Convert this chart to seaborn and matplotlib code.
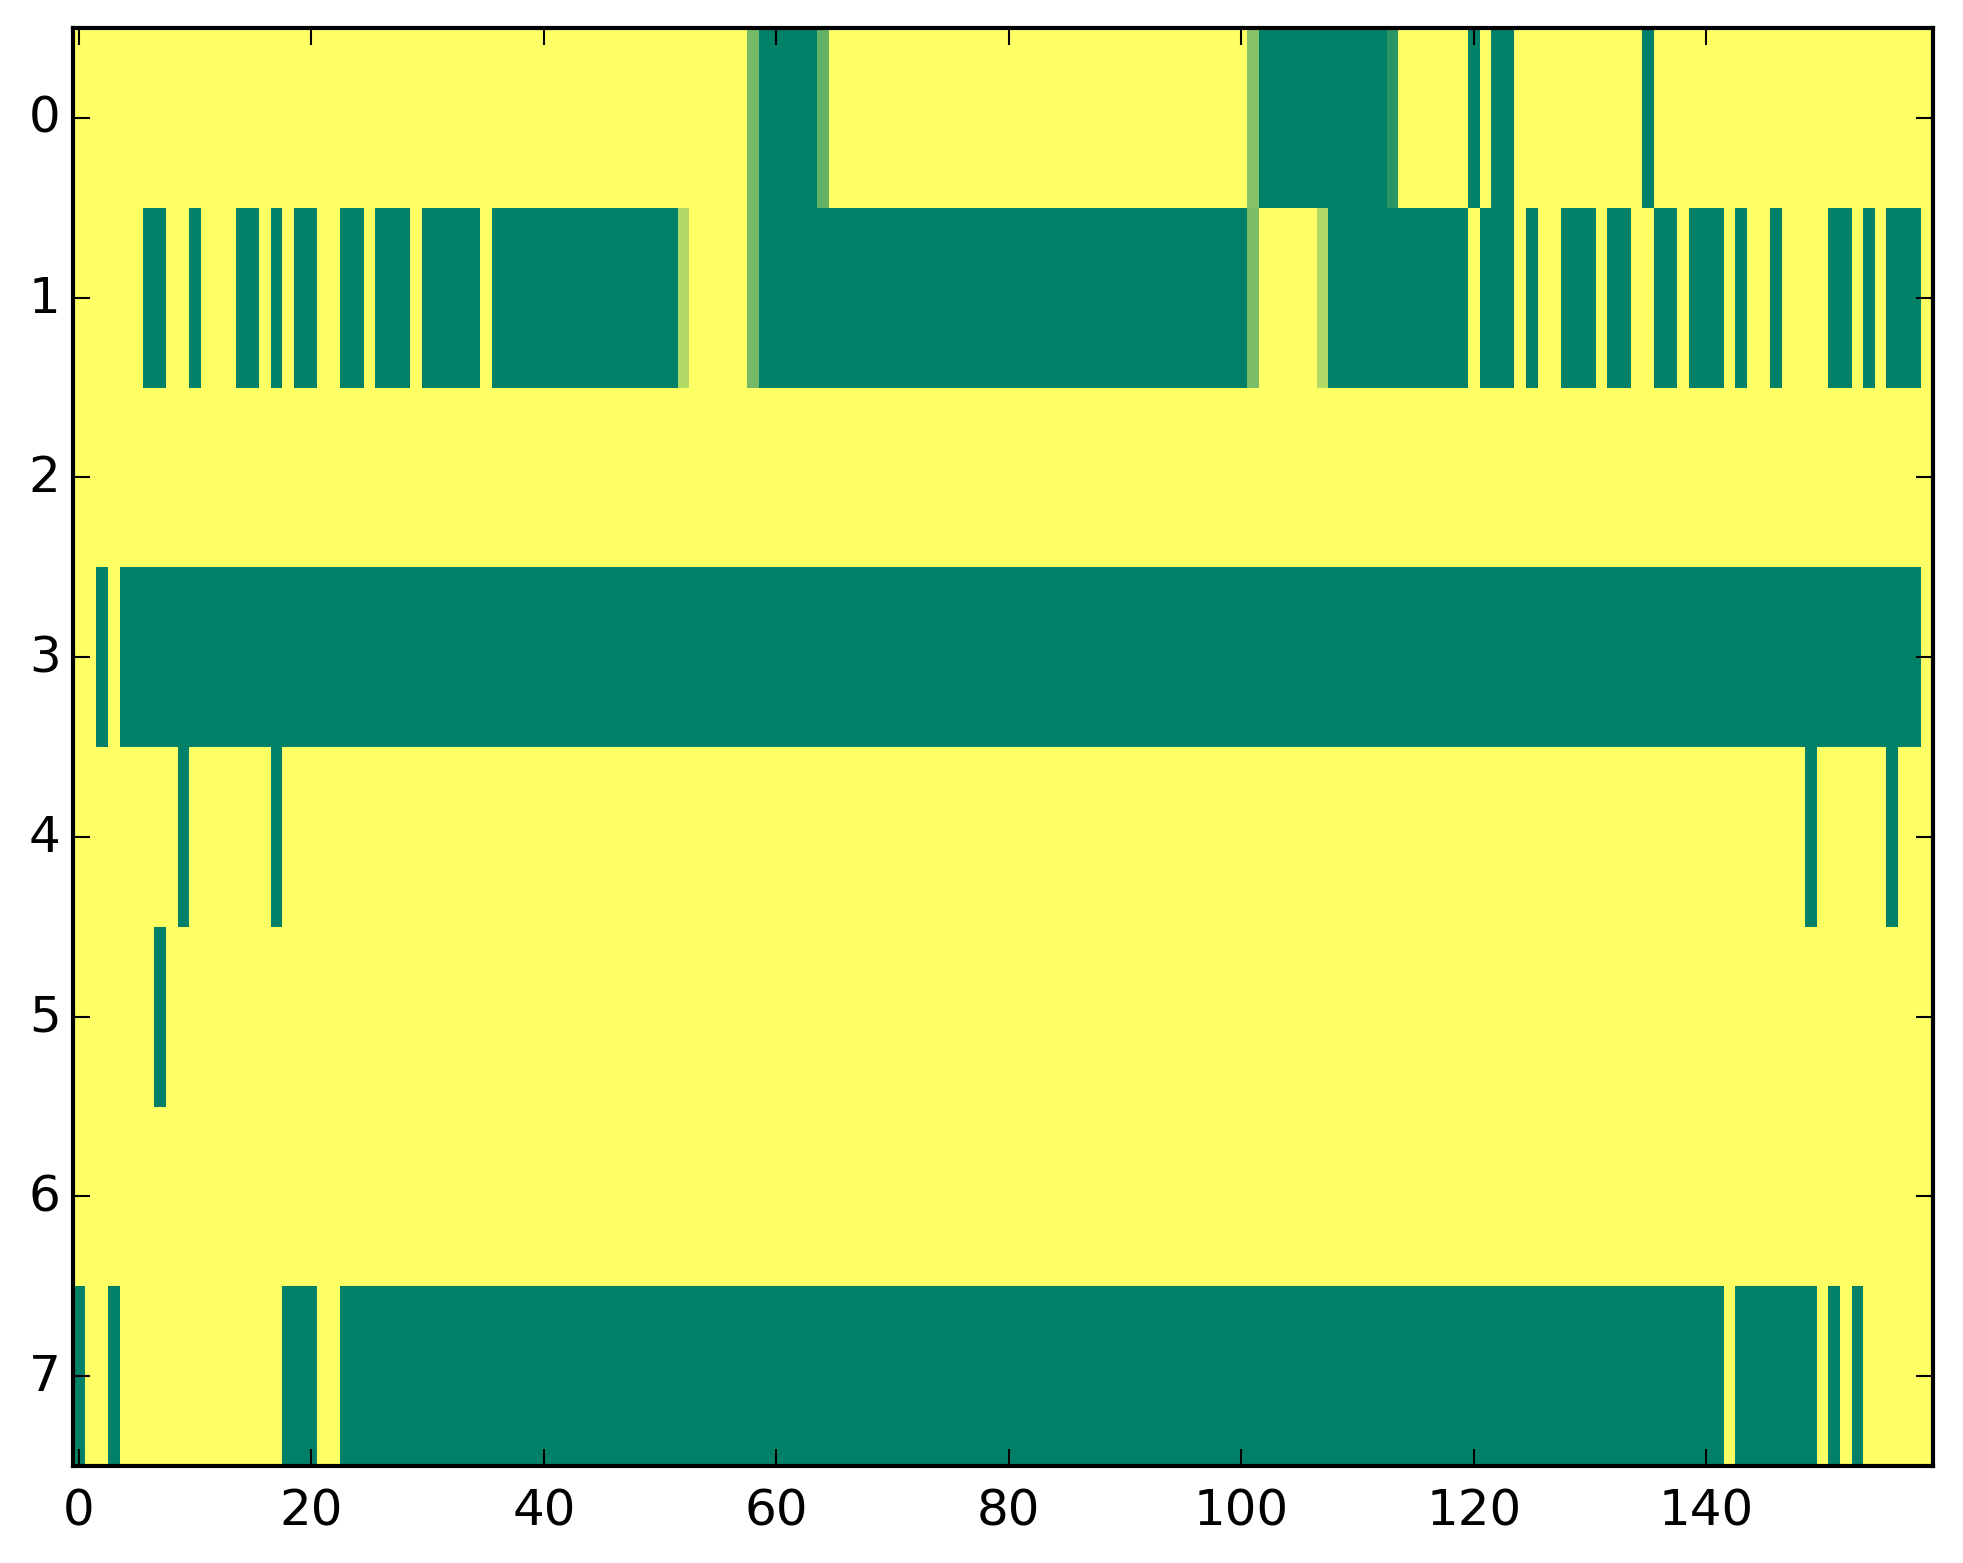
import numpy as np
import seaborn as sns
import matplotlib
matplotlib.use("Agg")
import matplotlib.pyplot as plt

# Data: 8 rows x 160 columns, value 1 = yellow, 0 = green (summer cmap)
n_rows = 8
n_cols = 160

# green runs (inclusive column ranges) for each row
row0_green = [(59, 63), (102, 112), (120, 120), (122, 123), (135, 135)]
row1_green = [(6, 7), (10, 10), (14, 15), (17, 17), (19, 20), (23, 24), (26, 28),
              (30, 34), (36, 51), (59, 100), (108, 119), (121, 123), (125, 125),
              (128, 130), (132, 133), (136, 137), (139, 141), (143, 143),
              (146, 146), (151, 152), (154, 154), (156, 158)]
row2_green = []
row3_green = [(2, 2), (4, 158)]
row4_green = [(9, 9), (17, 17), (149, 149), (156, 156)]
row5_green = [(7, 7)]
row6_green = []
row7_green = [(0, 0), (3, 3), (18, 20), (23, 141), (143, 149), (151, 151), (153, 153)]

# cells with in-between values
row0_partial = {58: 0.45, 64: 0.39, 101: 0.53, 113: 0.17}
row1_partial = {52: 0.70, 58: 0.45, 101: 0.48, 107: 0.70}

x_ticks = [0, 20, 40, 60, 80, 100, 120, 140]
y_ticks = [0, 1, 2, 3, 4, 5, 6, 7]

green_runs = [row0_green, row1_green, row2_green, row3_green,
              row4_green, row5_green, row6_green, row7_green]
partials = {0: row0_partial, 1: row1_partial}

grid = np.ones((n_rows, n_cols))
for r, runs in enumerate(green_runs):
    for a, b in runs:
        grid[r, a:b + 1] = 0.0
for r, cells in partials.items():
    for c, v in cells.items():
        grid[r, c] = v

plt.style.use("classic")
fig = plt.figure(figsize=(1963 / 300, 1564 / 300), dpi=300, facecolor="white")
ax = fig.add_axes([0.0372, 0.062, 0.9475, 0.9194])

sns.heatmap(grid, cmap="summer", vmin=0, vmax=1, cbar=False, ax=ax)

for s in ax.spines.values():
    s.set_visible(True)
    s.set_linewidth(1.0)
    s.set_color("black")

ax.set_xticks([t + 0.5 for t in x_ticks])
ax.set_xticklabels([str(t) for t in x_ticks], rotation=0, fontsize=12)
ax.set_yticks([t + 0.5 for t in y_ticks])
ax.set_yticklabels([str(t) for t in y_ticks], rotation=0, fontsize=12)
ax.tick_params(axis="both", which="major", direction="in", length=4, width=0.5,
               top=True, right=True, bottom=True, left=True,
               labeltop=False, labelright=False)
ax.tick_params(axis="x", pad=5)
ax.tick_params(axis="y", pad=3)
ax.set_xlabel("")
ax.set_ylabel("")

fig.savefig("out.png", dpi=300, facecolor="white")
